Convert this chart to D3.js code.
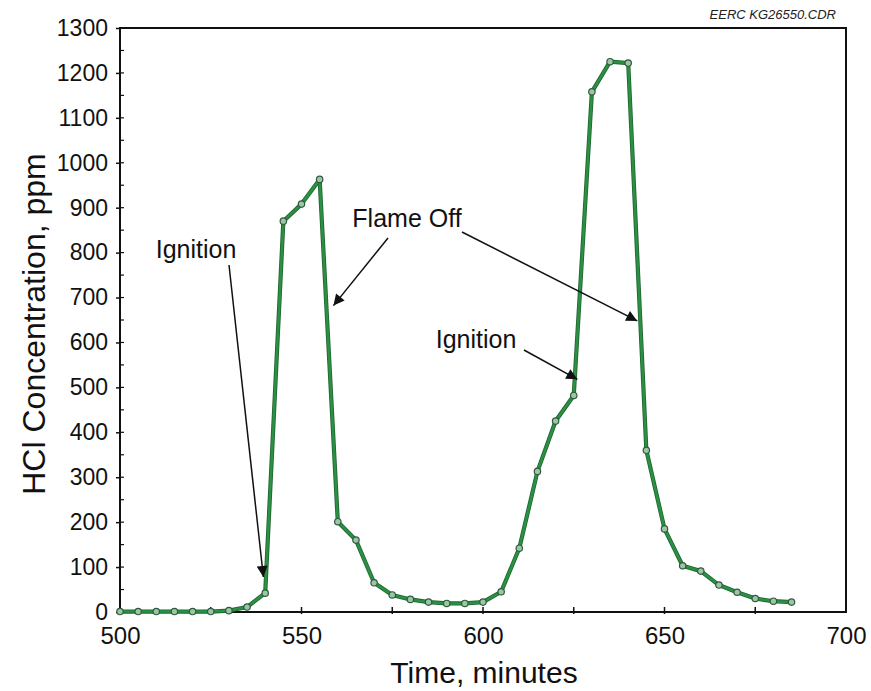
<!DOCTYPE html>
<html>
<head>
<meta charset="utf-8">
<script src="https://cdn.jsdelivr.net/npm/d3@7"></script>
<style>
  body { margin: 0; background: #fff; }
  svg { display: block; font-family: "Liberation Sans", Arial, sans-serif; }
</style>
</head>
<body>
<svg width="871" height="691"></svg>
<script>
// time (minutes) and HCl concentration (ppm)
const times = [500, 505, 510, 515, 520, 525, 530, 535, 540, 545, 550, 555, 560, 565, 570,
  575, 580, 585, 590, 595, 600, 605, 610, 615, 620, 625, 630, 635, 640, 645, 650,
  655, 660, 665, 670, 675, 680, 685];
const hcl = [1, 1, 1, 1, 1, 1, 3, 11, 42, 870, 908, 963, 201, 160, 65,
  38, 28, 22, 19, 19, 22, 45, 142, 313, 425, 482, 1158, 1225, 1222, 360, 185,
  103, 91, 60, 44, 30, 24, 22];
const xTicks = [500, 550, 600, 650, 700];
const yTicks = [0, 100, 200, 300, 400, 500, 600, 700, 800, 900, 1000, 1100, 1200, 1300];

const labels = ["Ignition", "Flame Off", "Ignition"];
// arrow targets in data units (time, ppm)
const arrowTimes = [539.5, 558.8, 642.5, 626];
const arrowValues = [78, 682, 648, 518];

const svg = d3.select("svg");
const mLeft = 120, mRight = 846, mTop = 28, mBottom = 612;

const x = d3.scaleLinear().domain([500, 700]).range([mLeft, mRight]);
const y = d3.scaleLinear().domain([0, 1300]).range([mBottom, mTop]);

// frame
svg.append("rect")
  .attr("x", mLeft).attr("y", mTop)
  .attr("width", mRight - mLeft).attr("height", mBottom - mTop)
  .attr("fill", "none").attr("stroke", "#111").attr("stroke-width", 2);

// x axis
const xAxis = svg.append("g")
  .attr("transform", `translate(0, ${mBottom})`)
  .call(d3.axisBottom(x).tickValues(xTicks).tickSize(0).tickPadding(15));
xAxis.select(".domain").remove();
xAxis.selectAll("text").attr("font-size", "24px").attr("fill", "#111")
  .attr("font-family", "Liberation Sans, Arial, sans-serif");
svg.append("g").selectAll("line")
  .data(d3.range(525, 700, 25))
  .join("line")
  .attr("x1", d => x(d)).attr("x2", d => x(d))
  .attr("y1", mBottom - 5).attr("y2", mBottom + 2)
  .attr("stroke", "#111").attr("stroke-width", 1.5);

// y axis
const yAxis = svg.append("g")
  .attr("transform", `translate(${mLeft}, 0)`)
  .call(d3.axisLeft(y).tickValues(yTicks).tickFormat(d3.format("d")).tickSize(4).tickPadding(8));
yAxis.select(".domain").remove();
yAxis.selectAll("line").attr("stroke", "#111").attr("stroke-width", 1.5);
yAxis.selectAll("text").attr("font-size", "23px").attr("fill", "#111")
  .attr("font-family", "Liberation Sans, Arial, sans-serif");
svg.append("g").selectAll("line")
  .data(d3.range(50, 1300, 50))
  .join("line")
  .attr("x1", mLeft).attr("x2", mLeft + 4)
  .attr("y1", d => y(d)).attr("y2", d => y(d))
  .attr("stroke", "#111").attr("stroke-width", 1.2);

// axis titles
svg.append("text")
  .attr("x", 484).attr("y", 683)
  .attr("text-anchor", "middle").attr("font-size", "30px").attr("fill", "#111")
  .text("Time, minutes");
svg.append("text")
  .attr("transform", "translate(45, 324) rotate(-90)")
  .attr("text-anchor", "middle").attr("font-size", "32px").attr("fill", "#111")
  .text("HCl Concentration, ppm");

svg.append("text")
  .attr("x", 836).attr("y", 19)
  .attr("text-anchor", "end").attr("font-size", "13px")
  .attr("font-style", "italic").attr("fill", "#222")
  .text("EERC KG26550.CDR");

// data line
const points = times.map((t, i) => ({ t: t, v: hcl[i] }));
const line = d3.line().x(d => x(d.t)).y(d => y(d.v));

svg.append("path").datum(points)
  .attr("d", line).attr("fill", "none")
  .attr("stroke", "#1f6332").attr("stroke-width", 4.2).attr("stroke-linejoin", "round");
svg.append("path").datum(points)
  .attr("d", line).attr("fill", "none")
  .attr("stroke", "#2a9142").attr("stroke-width", 2.6).attr("stroke-linejoin", "round");

svg.append("g").selectAll("circle")
  .data(points)
  .join("circle")
  .attr("cx", d => x(d.t)).attr("cy", d => y(d.v))
  .attr("r", 3.2)
  .attr("fill", "#9cc4a6").attr("stroke", "#2f5a3c").attr("stroke-width", 1.2);

// annotations
svg.append("defs").append("marker")
  .attr("id", "head")
  .attr("viewBox", "0 0 10 10")
  .attr("refX", 10).attr("refY", 5)
  .attr("markerWidth", 15).attr("markerHeight", 11)
  .attr("markerUnits", "userSpaceOnUse")
  .attr("orient", "auto")
  .append("path").attr("d", "M0,0 L10,5 L0,10 Z").attr("fill", "#111");

// arrow tails sit next to their labels
const tails = [[229, 265], [388, 238], [462, 232], [524, 350]];

svg.append("g").selectAll("line")
  .data(arrowTimes)
  .join("line")
  .attr("x1", (d, i) => tails[i][0]).attr("y1", (d, i) => tails[i][1])
  .attr("x2", d => x(d)).attr("y2", (d, i) => y(arrowValues[i]))
  .attr("stroke", "#111").attr("stroke-width", 1.5)
  .attr("marker-end", "url(#head)");

const labelPos = [[196, 258], [407, 227], [476, 348]];
svg.append("g").selectAll("text")
  .data(labels)
  .join("text")
  .attr("x", (d, i) => labelPos[i][0]).attr("y", (d, i) => labelPos[i][1])
  .attr("text-anchor", "middle").attr("font-size", "25px").attr("fill", "#111")
  .text(d => d);
</script>
</body>
</html>
